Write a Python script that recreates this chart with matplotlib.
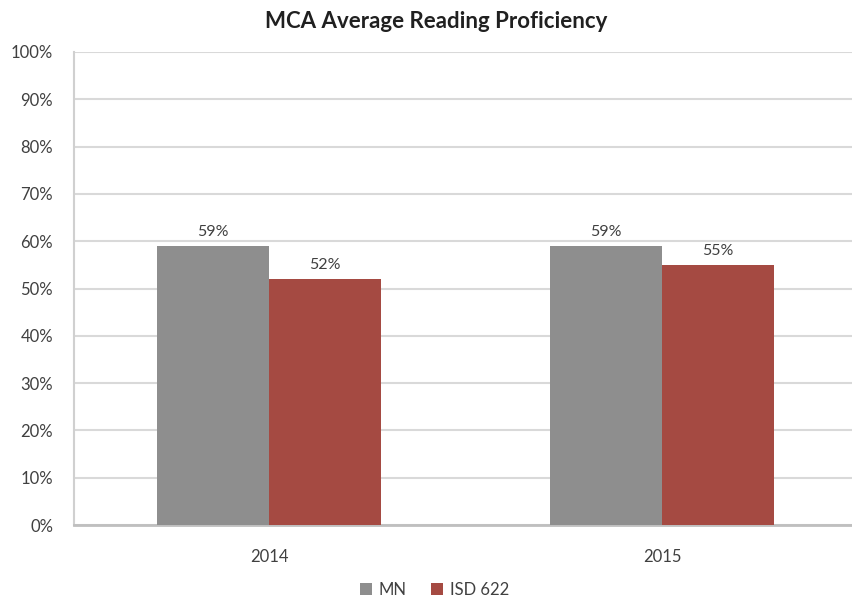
import matplotlib

matplotlib.use("Agg")
import matplotlib.pyplot as plt
import numpy as np

years = ["2014", "2015"]
mn_values = [59, 59]
isd_values = [52, 55]
series_names = ["MN", "ISD 622"]
y_ticks = list(range(0, 101, 10))

GRAY = "#8E8E8E"
RED = "#A54A42"
plt.rcParams["font.family"] = ["Lato", "DejaVu Sans"]


def main() -> None:
    fig = plt.figure(figsize=(8.52, 6.01), dpi=100)
    ax = fig.add_axes([74 / 852, 1 - 525 / 601, (852 - 74) / 852, (525 - 52) / 601])

    x = np.arange(len(years))
    width = 0.285
    mn_bars = ax.bar(x - width / 2, mn_values, width, color=GRAY, label=series_names[0], zorder=3)
    isd_bars = ax.bar(x + width / 2, isd_values, width, color=RED, label=series_names[1], zorder=3)

    for bars, values in ((mn_bars, mn_values), (isd_bars, isd_values)):
        for bar, value in zip(bars, values):
            ax.annotate(
                f"{value}%",
                xy=(bar.get_x() + bar.get_width() / 2, bar.get_height()),
                xytext=(0, 5),
                textcoords="offset points",
                ha="center",
                va="bottom",
                fontsize=11.5,
                color="#404040",
            )

    ax.set_xlim(-0.496, 1.483)
    ax.set_ylim(0, 100)
    ax.set_yticks(y_ticks)
    ax.set_yticklabels([f"{t}%" for t in y_ticks])
    ax.set_xticks(x)
    ax.set_xticklabels(years)
    ax.tick_params(axis="both", length=0, labelsize=12, colors="#404040")
    ax.tick_params(axis="y", pad=15)
    ax.tick_params(axis="x", pad=17)
    ax.grid(axis="y", color="#D9D9D9", linewidth=1.5, zorder=0)
    for side in ("top", "right"):
        ax.spines[side].set_visible(False)
    ax.spines["left"].set_color("#D0D0D0")
    ax.spines["left"].set_linewidth(1.5)
    ax.spines["bottom"].set_color("#BFBFBF")
    ax.spines["bottom"].set_linewidth(2)

    fig.suptitle("MCA Average Reading Proficiency", x=0.512, y=0.982, fontsize=16,
                 fontweight="bold", color="#202020")

    fig.legend(
        handles=[mn_bars, isd_bars],
        labels=series_names,
        loc="center",
        bbox_to_anchor=(0.51, 1 - 590 / 601),
        ncol=2,
        frameon=False,
        fontsize=12,
        handlelength=0.7,
        handleheight=0.7,
        handletextpad=0.4,
        columnspacing=1.5,
        labelcolor="#404040",
    )

    fig.savefig("out.png", dpi=100)
    plt.close(fig)


if __name__ == "__main__":
    main()
